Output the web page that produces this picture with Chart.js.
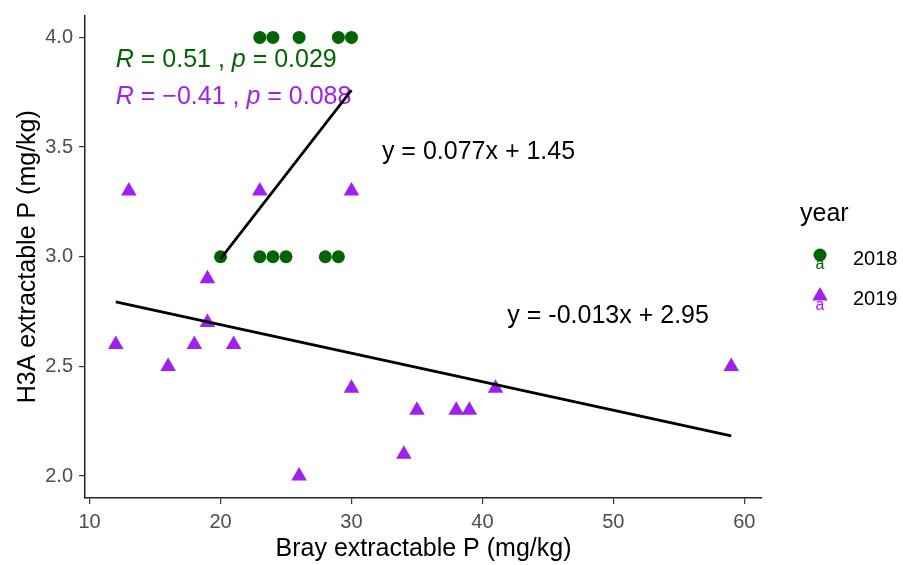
<!DOCTYPE html>
<html><head><meta charset="utf-8">
<script src="https://cdn.jsdelivr.net/npm/chart.js@4"></script>
<style>html,body{margin:0;padding:0;background:#fff}canvas{display:block}</style>
</head><body>
<canvas id="c" width="903" height="565"></canvas>
<script>
// ---- data ----
const years = ['2018', '2019'];
const x2018 = [20, 23, 24, 25, 28, 29, 23, 24, 26, 29, 30];
const y2018 = [3.0, 3.0, 3.0, 3.0, 3.0, 3.0, 4.0, 4.0, 4.0, 4.0, 4.0];
const x2019 = [13, 23, 30, 19, 19, 12, 16, 18, 21, 26, 30, 34, 35, 38, 39, 41, 59];
const y2019 = [3.3, 3.3, 3.3, 2.9, 2.7, 2.6, 2.5, 2.6, 2.6, 2.0, 2.4, 2.1, 2.3, 2.3, 2.3, 2.4, 2.5];
const fitSlope = [0.077, -0.013];
const fitIntercept = [1.45, 2.95];
const corR = ['0.51', '\u22120.41'];
const corP = ['0.029', '0.088'];
const eqLabels = ['y = 0.077x + 1.45', 'y = -0.013x + 2.95'];
const xTicks = [10, 20, 30, 40, 50, 60];
const yTicks = [2.0, 2.5, 3.0, 3.5, 4.0];

const colors = ['#006400', '#A020F0'];
const FONT = '"Liberation Sans", Arial, Helvetica, sans-serif';

const toPts = (xs, ys) => xs.map((v, i) => ({x: v, y: ys[i]}));
function fitLine(xs, k) {
  const lo = Math.min(...xs), hi = Math.max(...xs);
  return [{x: lo, y: fitSlope[k] * lo + fitIntercept[k]}, {x: hi, y: fitSlope[k] * hi + fitIntercept[k]}];
}

// annotation anchors in data units
const corPos = [{x: 12, y: 3.895}, {x: 12, y: 3.727}];
const eqPos = [{x: 39.7, y: 3.476}, {x: 49.6, y: 2.729}];

function drawRich(ctx, x, y, segs, size) {
  let cx = x;
  segs.forEach(s => {
    ctx.font = (s.i ? 'italic ' : '') + size + 'px ' + FONT;
    ctx.fillText(s.t, cx, y);
    cx += ctx.measureText(s.t).width;
  });
}

const annot = {
  id: 'annot',
  beforeDatasetsDraw(chart) {
    const ctx = chart.ctx, xs = chart.scales.x, ys = chart.scales.y;
    ctx.save();
    ctx.textBaseline = 'middle';
    ctx.textAlign = 'left';
    for (let k = 0; k < 2; k++) {
      ctx.fillStyle = colors[k];
      drawRich(ctx, xs.getPixelForValue(corPos[k].x), ys.getPixelForValue(corPos[k].y), [
        {t: 'R', i: true}, {t: ' = ' + corR[k] + ' , '}, {t: 'p', i: true}, {t: ' = ' + corP[k]}
      ], 25);
    }
    ctx.restore();
  },
  afterDatasetsDraw(chart) {
    const ctx = chart.ctx, xs = chart.scales.x, ys = chart.scales.y;
    ctx.save();
    ctx.textBaseline = 'middle';
    ctx.textAlign = 'center';
    ctx.fillStyle = '#000';
    ctx.font = '25px ' + FONT;
    for (let k = 0; k < 2; k++) {
      ctx.fillText(eqLabels[k], xs.getPixelForValue(eqPos[k].x), ys.getPixelForValue(eqPos[k].y));
    }
    // legend
    ctx.textAlign = 'left';
    ctx.font = '25px ' + FONT;
    ctx.fillText('year', 800, 214);
    const keyY = [255, 296];
    const labY = [259, 299];
    for (let k = 0; k < 2; k++) {
      ctx.fillStyle = colors[k];
      ctx.beginPath();
      if (k === 0) {
        ctx.arc(820, keyY[k], 6.5, 0, Math.PI * 2);
      } else {
        const r = 9;
        for (let j = 0; j < 3; j++) {
          const a = j * 2 * Math.PI / 3;
          const px = 820 + Math.sin(a) * r, py = keyY[k] - Math.cos(a) * r;
          j ? ctx.lineTo(px, py) : ctx.moveTo(px, py);
        }
        ctx.closePath();
      }
      ctx.fill();
      ctx.font = '16px ' + FONT;
      ctx.textAlign = 'center';
      ctx.fillText('a', 820, keyY[k] + 10);
      ctx.fillStyle = '#000';
      ctx.textAlign = 'left';
      ctx.font = '20px ' + FONT;
      ctx.fillText(years[k], 853, labY[k]);
    }
    ctx.restore();
  }
};

const axisCommon = {
  grid: {drawOnChartArea: false, drawTicks: true, tickLength: 6, color: '#333', lineWidth: 1.2},
  border: {display: true, color: '#222', width: 1.5},
};

new Chart(document.getElementById('c'), {
  type: 'scatter',
  data: {
    datasets: [
      {type: 'line', data: fitLine(x2018, 0), borderColor: '#000', borderWidth: 2.7, pointRadius: 0, fill: false},
      {type: 'line', data: fitLine(x2019, 1), borderColor: '#000', borderWidth: 2.7, pointRadius: 0, fill: false},
      {label: years[0], data: toPts(x2018, y2018), pointStyle: 'circle', pointRadius: 6.5, backgroundColor: colors[0], borderWidth: 0},
      {label: years[1], data: toPts(x2019, y2019), pointStyle: 'triangle', pointRadius: 9, backgroundColor: colors[1], borderWidth: 0}
    ]
  },
  options: {
    responsive: false,
    animation: false,
    events: [],
    layout: {padding: {left: 0, right: 141, top: 15.5, bottom: 0}},
    plugins: {legend: {display: false}, tooltip: {enabled: false}},
    scales: {
      x: Object.assign({}, axisCommon, {
        type: 'linear', min: 9.65, max: 61.35,
        afterBuildTicks: s => { s.ticks = xTicks.map(v => ({value: v})); },
        afterFit: s => { s.height = 67; s.paddingLeft = 0; s.paddingRight = 0; },
        ticks: {color: '#4d4d4d', font: {size: 20, family: FONT}, padding: 6, maxRotation: 0, autoSkip: false},
        title: {display: true, text: 'Bray extractable P (mg/kg)', color: '#000', font: {size: 25, family: FONT}, padding: {top: 0, bottom: 1}}
      }),
      y: Object.assign({}, axisCommon, {
        type: 'linear', min: 1.9, max: 4.1,
        afterBuildTicks: s => { s.ticks = yTicks.map(v => ({value: v})); },
        afterFit: s => { s.width = 85; s.paddingTop = 0; s.paddingBottom = 0; },
        ticks: {color: '#4d4d4d', font: {size: 20, family: FONT}, padding: 6, callback: v => v.toFixed(1)},
        title: {display: true, text: 'H3A extractable P (mg/kg)', color: '#000', font: {size: 25, family: FONT}, padding: {top: 13, bottom: 0}}
      })
    }
  },
  plugins: [annot]
});
</script>
</body></html>
